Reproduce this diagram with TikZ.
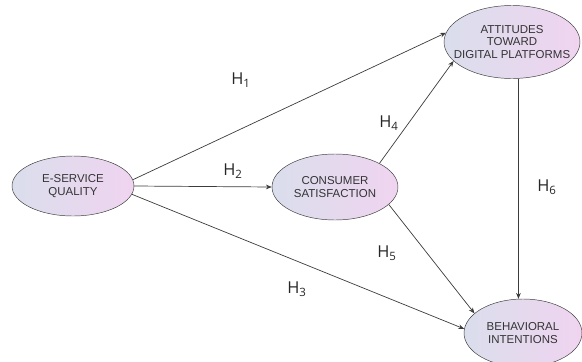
\documentclass[tikz,border=0pt]{standalone}
\usepackage{fontspec}
\setmainfont{Liberation Sans}
\newfontfamily\hfont{Open Sans}
\usetikzlibrary{shapes.geometric,arrows.meta}
\definecolor{leftcol}{RGB}{218,222,236}
\definecolor{rightcol}{RGB}{240,212,240}
\definecolor{linecol}{RGB}{60,60,60}
\tikzset{
  construct/.style={ellipse,draw=linecol,left color=leftcol,right color=rightcol,
    inner sep=0pt,align=center,text=black!80,font=\fontsize{9.8}{10.8}\selectfont},
  hyp/.style={-{Stealth[length=5pt,width=4pt]},draw=linecol,line width=0.6pt},
  hlabel/.style={font=\hfont\fontsize{14}{15}\selectfont,text=black!85}
}
\begin{document}
\begin{tikzpicture}[x=0.03cm,y=-0.03cm]
\useasboundingbox (0,0) rectangle (582,362);
% \draw[help lines] (0,0) grid[step=50] (582,362);
\node (esq) [construct,minimum width=122*0.03cm,minimum height=60*0.03cm] at (73,186) {E-SERVICE\\QUALITY};
\node (cs) [construct,minimum width=126*0.03cm,minimum height=66*0.03cm] at (335,187) {CONSUMER\\SATISFACTION};
\node (att) [construct,inner xsep=-0.55cm,minimum width=136*0.03cm,minimum height=73*0.03cm] at (512,42) {ATTITUDES\\TOWARD\\DIGITAL PLATFORMS};
\node (bi) [construct,minimum width=118*0.03cm,minimum height=68*0.03cm] at (523,333) {BEHAVIORAL\\INTENTIONS};
%
\draw[hyp] (esq.6) -- (att.172);
\draw[hyp] (esq.east) -- (cs.west);
\draw[hyp] (esq.-8) -- (bi.176);
\draw[hyp] (cs.28) -- (att.198);
\draw[hyp] (cs.-18) -- (bi.158);
\draw[hyp] (att.-80) -- (att.-80 |- bi.north);
%
\node (h1) [hlabel] at (241,80) {H\textsubscript{1}};
\node (h2) [hlabel] at (233,171) {H\textsubscript{2}};
\node (h3) [hlabel] at (297,289) {H\textsubscript{3}};
\node (h4) [hlabel] at (389,123) {H\textsubscript{4}};
\node (h5) [hlabel] at (387,253) {H\textsubscript{5}};
\node (h6) [hlabel] at (547,187) {H\textsubscript{6}};
\end{tikzpicture}
\end{document}
